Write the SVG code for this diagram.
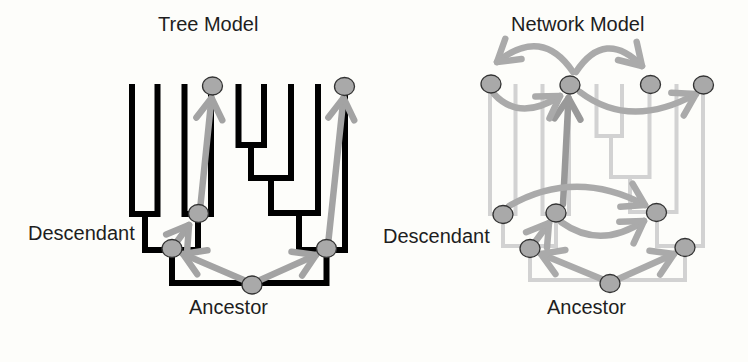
<svg xmlns="http://www.w3.org/2000/svg" width="748" height="362" viewBox="0 0 748 362">
  <style>
    .label { font-family: "Liberation Sans", Arial, sans-serif; font-size: 20px; fill: #1e1e1e; }
    .branch { fill: none; stroke: #000; stroke-width: 6; stroke-linejoin: miter; }
    .branch-faint { fill: none; stroke: #d2d2d2; stroke-width: 4; stroke-linejoin: miter; }
    .flow { fill: none; stroke: #a3a3a3; stroke-width: 6.5; stroke-linecap: round; marker-end: url(#chevron); }
    .flow-net { fill: none; stroke: #aaa; stroke-width: 6.5; stroke-linecap: round; marker-end: url(#chevron-net); }
    .flow-dark { fill: none; stroke: #999; stroke-width: 6.5; stroke-linecap: round; marker-end: url(#chevron-dark); }
    .node { fill: #a9a9a9; stroke: #333; stroke-width: 1.3; }
  </style>
  <defs>
    <marker id="chevron" viewBox="-28 -18 32 36" markerUnits="userSpaceOnUse" markerWidth="32" markerHeight="36" refX="0" refY="0" orient="auto" overflow="visible">
      <path d="M-21,-13 L0,0 L-21,13" fill="none" stroke="#a3a3a3" stroke-width="6.5" stroke-linecap="round" stroke-linejoin="round"/>
    </marker>
    <marker id="chevron-net" viewBox="-28 -18 32 36" markerUnits="userSpaceOnUse" markerWidth="32" markerHeight="36" refX="0" refY="0" orient="auto" overflow="visible">
      <path d="M-21,-13 L0,0 L-21,13" fill="none" stroke="#aaa" stroke-width="6.5" stroke-linecap="round" stroke-linejoin="round"/>
    </marker>
    <marker id="chevron-dark" viewBox="-28 -18 32 36" markerUnits="userSpaceOnUse" markerWidth="32" markerHeight="36" refX="0" refY="0" orient="auto" overflow="visible">
      <path d="M-21,-13 L0,0 L-21,13" fill="none" stroke="#999" stroke-width="6.5" stroke-linecap="round" stroke-linejoin="round"/>
    </marker>
  </defs>

  <rect width="748" height="362" fill="#fdfdfa"/>

  <!-- titles -->
  <text class="label" x="158" y="31">Tree Model</text>
  <text class="label" x="511" y="31">Network Model</text>

  <!-- tree model: black phylogeny -->
  <g id="tree-branches">
    <path class="branch" d="M132,84 V214 H157.5 V84"/>
    <path class="branch" d="M184.5,84 V214 H211 V84"/>
    <path class="branch" d="M145,214 V250 H198 V214"/>
    <path class="branch" d="M238.5,84 V145 H264 V84"/>
    <path class="branch" d="M251,145 V178 H291 V84"/>
    <path class="branch" d="M271,178 V213 H318 V84"/>
    <path class="branch" d="M299,213 V250 H345 V84"/>
    <path class="branch" d="M172,250 V283 H326.5 V250"/>
  </g>

  <!-- network model: faint phylogeny -->
  <g id="network-branches">
    <path class="branch-faint" d="M490,84 V214 H515.5 V84"/>
    <path class="branch-faint" d="M542.5,84 V214 H569 V84"/>
    <path class="branch-faint" d="M503,214 V246 H556 V214"/>
    <path class="branch-faint" d="M596.5,84 V136 H622 V84"/>
    <path class="branch-faint" d="M611,136 V177 H649.5 V84"/>
    <path class="branch-faint" d="M630,177 V212 H676.5 V84"/>
    <path class="branch-faint" d="M657,212 V246 H703 V84"/>
    <path class="branch-faint" d="M530,246 V280 H685 V246"/>
  </g>

  <!-- connectors -->
  <g id="connectors">
    <!-- tree model -->
    <path class="flow" d="M246,281 L183,254"/>
    <path class="flow" d="M258,281 L316,255"/>
    <path class="flow" d="M176,243 L189,225"/>
    <path class="flow" d="M200.5,205 L211.5,98"/>
    <path class="flow" d="M328.5,240 L343.5,98"/>
    <!-- network model -->
    <path class="flow-net" d="M604,280 L541,254"/>
    <path class="flow-net" d="M616,280 L674,254"/>
    <path class="flow-net" d="M535,242 L549,223"/>
    <path class="flow-dark" d="M563,204 L568.5,98"/>
    <path class="flow-net" d="M509,206 Q575,168 645,205"/>
    <path class="flow-net" d="M561,222 Q600,250 644,221"/>
    <path class="flow-net" d="M494,94 Q520,122 560,96"/>
    <path class="flow-net" d="M573,72 Q542,26 497,62"/>
    <path class="flow-net" d="M576,72 Q605,28 642,66"/>
    <path class="flow-net" d="M580,92 Q630,130 696,94"/>
  </g>

  <!-- tree model nodes -->
  <g id="tree-leaf-a"><ellipse class="node" cx="212.5" cy="86" rx="10" ry="9"/></g>
  <g id="tree-leaf-b"><ellipse class="node" cx="344.5" cy="86.5" rx="10" ry="9"/></g>
  <g id="tree-desc-a"><ellipse class="node" cx="198.5" cy="213.5" rx="10" ry="9"/></g>
  <g id="tree-desc-b"><ellipse class="node" cx="172" cy="248.5" rx="10" ry="9"/></g>
  <g id="tree-desc-c"><ellipse class="node" cx="326.5" cy="248.5" rx="10" ry="9"/></g>
  <g id="tree-ancestor"><ellipse class="node" cx="252" cy="285" rx="10" ry="9"/></g>

  <!-- network model nodes -->
  <g id="net-leaf-a"><ellipse class="node" cx="491" cy="84" rx="10" ry="9"/></g>
  <g id="net-leaf-b"><ellipse class="node" cx="570" cy="85" rx="10" ry="9"/></g>
  <g id="net-leaf-c"><ellipse class="node" cx="650.5" cy="84.5" rx="10" ry="9"/></g>
  <g id="net-leaf-d"><ellipse class="node" cx="703.5" cy="85" rx="10" ry="9"/></g>
  <g id="net-desc-a"><ellipse class="node" cx="503" cy="214.5" rx="10" ry="9"/></g>
  <g id="net-desc-b"><ellipse class="node" cx="556" cy="213" rx="10" ry="9"/></g>
  <g id="net-desc-c"><ellipse class="node" cx="656.5" cy="212.5" rx="10" ry="9"/></g>
  <g id="net-desc-d"><ellipse class="node" cx="530" cy="248.5" rx="10" ry="9"/></g>
  <g id="net-desc-e"><ellipse class="node" cx="685" cy="247.5" rx="10" ry="9"/></g>
  <g id="net-ancestor"><ellipse class="node" cx="610" cy="283.5" rx="10" ry="9"/></g>

  <!-- labels -->
  <text class="label" x="28" y="240">Descendant</text>
  <text class="label" x="383" y="243">Descendant</text>
  <text class="label" x="189" y="314">Ancestor</text>
  <text class="label" x="547" y="314">Ancestor</text>
</svg>
